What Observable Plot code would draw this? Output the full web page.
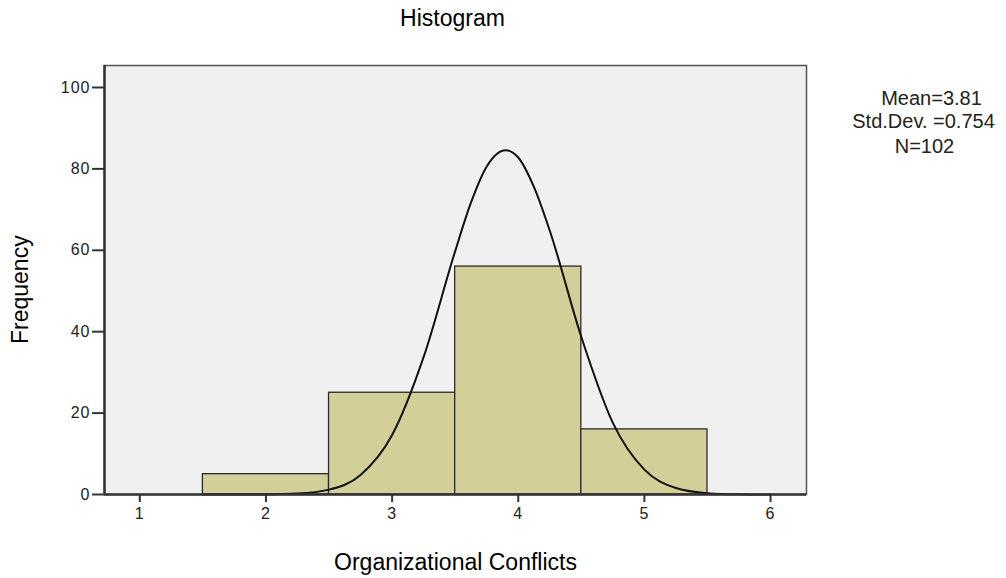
<!DOCTYPE html>
<html>
<head>
<meta charset="utf-8">
<script src="https://cdn.jsdelivr.net/npm/d3@7"></script>
<script src="https://cdn.jsdelivr.net/npm/@observablehq/plot@0.6"></script>
<style>
  html, body { margin: 0; padding: 0; background: #fff; }
  #chart { width: 1006px; height: 578px; }
  #chart g[font-size="16"] text { letter-spacing: 1px; }
</style>
</head>
<body>
<div id="chart"></div>
<script>
// Histogram bins (Organizational Conflicts)
const binStart = [1.5, 2.5, 3.5, 4.5];
const binEnd   = [2.5, 3.5, 4.5, 5.5];
const counts   = [5, 25, 56, 16];

// Normal curve, points
const curveX = [1.5, 2.0, 2.25, 2.5, 2.75, 3.0, 3.25, 3.5, 3.625, 3.75, 3.9, 4.0, 4.125, 4.25, 4.5, 4.75, 5.0, 5.25, 5.5, 5.75, 6.0];
const curveY = [0, 0.03, 0.23, 1.2, 4.8, 14.6, 33.8, 59.8, 71.7, 80.6, 84.6, 82.8, 75.5, 64.8, 38.7, 17.6, 6.1, 1.6, 0.33, 0.05, 0];

// Tick labels
const xTicks = [1, 2, 3, 4, 5, 6];
const yTicks = [0, 20, 40, 60, 80, 100];

// Texts
const titleText = "Histogram";
const xLabel = "Organizational Conflicts";
const yLabel = "Frequency";
const statsLines = ["Mean=3.81", "Std.Dev. =0.754", "N=102"];

const bars = counts.map((c, i) => ({x1: binStart[i], x2: binEnd[i], y: c}));
const curve = curveX.map((x, i) => ({x, y: curveY[i]}));

const font = "'Liberation Sans', Arial, Helvetica, sans-serif";

const chart = Plot.plot({
  width: 1006,
  height: 578,
  marginLeft: 104,
  marginRight: 200,
  marginTop: 65,
  marginBottom: 84,
  x: {domain: [0.72, 6.285]},
  y: {domain: [0, 105.4]},
  style: {background: "#fff", fontFamily: font, fontSize: "15px", color: "#222", overflow: "visible"},
  marks: [
    Plot.frame({fill: "#f0f0f0", stroke: "#555", strokeWidth: 1.5}),
    Plot.rectY(bars, {x1: "x1", x2: "x2", y: "y", fill: "#d3cf98", stroke: "#2a2a2a", strokeWidth: 1.3}),
    Plot.line(curve, {x: "x", y: "y", stroke: "#111", strokeWidth: 2, curve: "monotone-x"}),
    Plot.axisY({ticks: yTicks, tickFormat: () => "", tickSize: 12, strokeWidth: 2, stroke: "#333", label: null}),
    Plot.axisX({ticks: xTicks, tickFormat: () => "", tickSize: 8, strokeWidth: 2, stroke: "#333", label: null}),
    Plot.text(yTicks, {y: d => d, text: d => String(d), frameAnchor: "left", dx: -14, textAnchor: "end", lineAnchor: "middle", fontSize: 16, fill: "#222"}),
    Plot.text(xTicks, {x: d => d, text: d => String(d), frameAnchor: "bottom", dy: 19, lineAnchor: "middle", fontSize: 16, fill: "#222"}),
    Plot.ruleX([0.72], {stroke: "#333", strokeWidth: 2.5}),
    Plot.ruleY([0], {stroke: "#333", strokeWidth: 2.5}),
    Plot.text([titleText], {frameAnchor: "top", dx: -3, dy: -47, lineAnchor: "middle", fontSize: 23, fill: "#000"}),
    Plot.text([xLabel], {frameAnchor: "bottom", dy: 68, lineAnchor: "middle", fontSize: 23, fill: "#000"}),
    Plot.text([yLabel], {frameAnchor: "left", dx: -84, dy: 64, rotate: -90, lineAnchor: "middle", fontSize: 23, fill: "#000"}),
    Plot.text([statsLines[0]], {frameAnchor: "top-right", dx: 125, dy: 33, textAnchor: "middle", lineAnchor: "middle", fontSize: 20, fill: "#222"}),
    Plot.text([statsLines[1]], {frameAnchor: "top-right", dx: 117, dy: 56, textAnchor: "middle", lineAnchor: "middle", fontSize: 20, fill: "#222"}),
    Plot.text([statsLines[2]], {frameAnchor: "top-right", dx: 118, dy: 81, textAnchor: "middle", lineAnchor: "middle", fontSize: 20, fill: "#222"})
  ]
});
document.getElementById("chart").append(chart);
</script>
</body>
</html>
